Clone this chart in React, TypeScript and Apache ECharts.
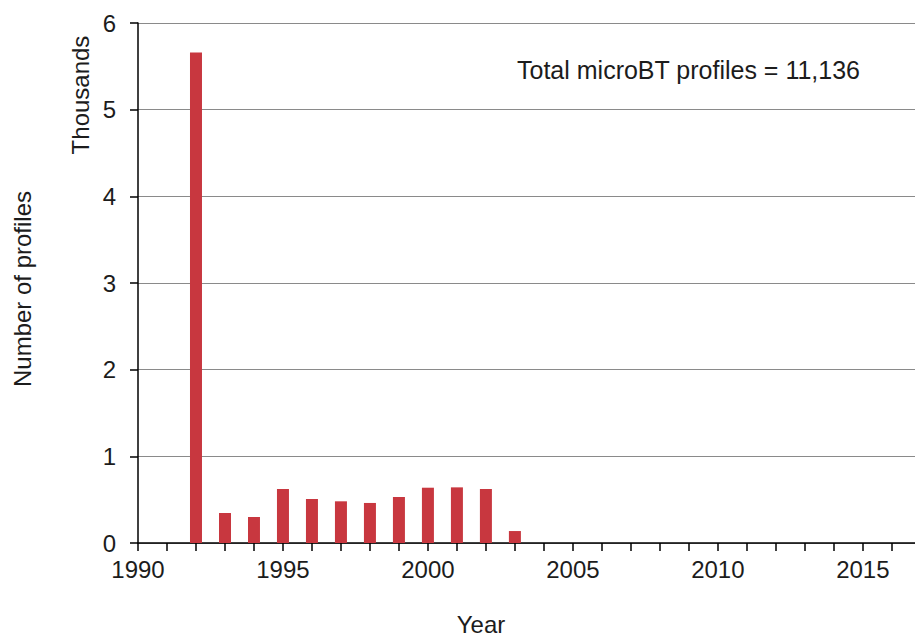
import React, { useEffect, useRef } from "react";
import * as echarts from "echarts";

const years = [1992, 1993, 1994, 1995, 1996, 1997, 1998, 1999, 2000, 2001, 2002, 2003];
const profilesThousands = [5.66, 0.346, 0.3, 0.623, 0.508, 0.481, 0.462, 0.531, 0.638, 0.642, 0.623, 0.138];
const tickYears = [1990, 1991, 1992, 1993, 1994, 1995, 1996, 1997, 1998, 1999, 2000, 2001, 2002, 2003, 2004, 2005, 2006, 2007, 2008, 2009, 2010, 2011, 2012, 2013, 2014, 2015, 2016];
const labelYears = [1990, 1995, 2000, 2005, 2010, 2015];
const annotation = "Total microBT profiles = 11,136";
const xTitle = "Year";
const yTitle = "Number of profiles";
const yUnit = "Thousands";

const FONT = "'Liberation Sans', Arial, sans-serif";
const TEXT = "#1c1c1c";

export default function App() {
  const ref = useRef<HTMLDivElement>(null);
  useEffect(() => {
    document.body.style.margin = "0";
    const chart = echarts.init(ref.current!, null, { renderer: "svg" });
    chart.setOption({
      animation: false,
      backgroundColor: "#ffffff",
      grid: { left: 138, right: 0, top: 23, bottom: 97 },
      xAxis: {
        type: "value",
        min: 1990,
        max: 2016.8,
        splitLine: { show: false },
        axisLine: { show: true, onZero: false, lineStyle: { color: "#000", width: 1.5 } },
        axisTick: { show: true, inside: false, length: 8, customValues: tickYears, lineStyle: { color: "#000", width: 1.5 } },
        axisLabel: {
          customValues: labelYears,
          margin: 14,
          fontSize: 24,
          fontFamily: FONT,
          color: TEXT,
          formatter: (v: number) => String(v),
        },
      },
      yAxis: {
        type: "value",
        min: 0,
        max: 6,
        interval: 1,
        splitLine: { show: true, lineStyle: { color: "#8a8a8a", width: 1 } },
        axisLine: { show: true, lineStyle: { color: "#000", width: 1.5 } },
        axisTick: { show: true, inside: false, length: 8, lineStyle: { color: "#000", width: 1.5 } },
        axisLabel: { margin: 22, fontSize: 24, fontFamily: FONT, color: TEXT },
      },
      series: [
        {
          type: "bar",
          barWidth: 12,
          itemStyle: { color: "#c8373f" },
          data: years.map((y, i) => [y, profilesThousands[i]]),
        },
      ],
      graphic: [
        {
          type: "text",
          left: 517,
          top: 57,
          style: { text: annotation, fontSize: 25, fontFamily: FONT, fill: TEXT },
        },
        {
          type: "text",
          x: 481,
          y: 624,
          style: { text: xTitle, fontSize: 24, fontFamily: FONT, fill: TEXT, align: "center", verticalAlign: "middle" },
        },
        {
          type: "text",
          x: 80,
          y: 95,
          rotation: Math.PI / 2,
          style: { text: yUnit, fontSize: 24, fontFamily: FONT, fill: TEXT, align: "center", verticalAlign: "middle" },
        },
        {
          type: "text",
          x: 22,
          y: 289,
          rotation: Math.PI / 2,
          style: { text: yTitle, fontSize: 24, fontFamily: FONT, fill: TEXT, align: "center", verticalAlign: "middle" },
        },
      ],
    });
    return () => chart.dispose();
  }, []);
  return <div ref={ref} style={{ width: 915, height: 640 }} />;
}
